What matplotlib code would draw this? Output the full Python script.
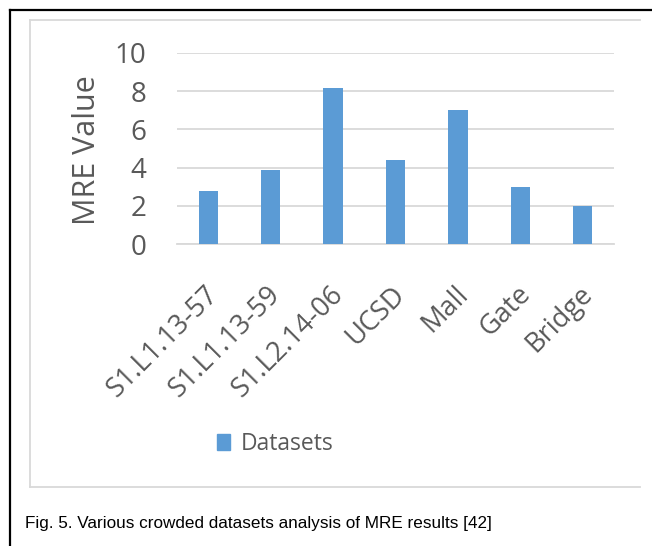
import matplotlib
matplotlib.use("Agg")
import matplotlib.pyplot as plt
from matplotlib.lines import Line2D
from matplotlib.patches import Patch
from matplotlib import font_manager
from matplotlib.transforms import ScaledTranslation

categories = ["S1.L1.13-57", "S1.L1.13-59", "S1.L2.14-06", "UCSD", "Mall", "Gate", "Bridge"]
values = [2.8, 3.9, 8.15, 4.4, 7.0, 3.0, 2.0]
yticks = [0, 2, 4, 6, 8, 10]
series_name = "Datasets"
caption = "Fig. 5. Various crowded datasets analysis of MRE results [42]"

W, H = 652, 546
fig = plt.figure(figsize=(W / 100, H / 100), dpi=100)

def fx(px):
    return px / W

def fy(py):
    return 1 - py / H

txt = "#595959"
grid = "#d9d9d9"
bar_c = "#5b9bd5"
font = ["Open Sans", "DejaVu Sans"]

names = {f.name for f in font_manager.fontManager.ttflist}
cap_family = ["Liberation Sans Narrow", "Liberation Sans", "DejaVu Sans"] if "Liberation Sans Narrow" in names else ["Liberation Sans", "DejaVu Sans"]
cap_size = 15 if "Liberation Sans Narrow" in names else 12.3

# outer black frame (left + top) and chart area frame
fig.add_artist(Line2D([fx(9.5), fx(9.5)], [fy(9.5), 0], color="black", lw=1.6, transform=fig.transFigure))
fig.add_artist(Line2D([fx(9.5), 1], [fy(9.5), fy(9.5)], color="black", lw=1.6, transform=fig.transFigure))
fig.add_artist(Line2D([fx(30), fx(30)], [fy(20), fy(487)], color=grid, lw=1.3, transform=fig.transFigure))
fig.add_artist(Line2D([fx(30), fx(640)], [fy(20), fy(20)], color=grid, lw=1.3, transform=fig.transFigure))
fig.add_artist(Line2D([fx(30), fx(640)], [fy(487), fy(487)], color=grid, lw=1.3, transform=fig.transFigure))

ax = fig.add_axes([fx(177), fy(244.3), fx(614) - fx(177), fy(52.7) - fy(244.3)])
x = list(range(len(categories)))
ax.bar(x, values, width=0.31, color=bar_c, zorder=3)
ax.set_xlim(-0.5, len(categories) - 0.5)
ax.set_ylim(0, 10)
ax.set_yticks(yticks)
ax.set_yticklabels([str(t) for t in yticks], fontsize=20, color=txt, family=font)
ax.yaxis.grid(True, color=grid, lw=1.3, zorder=0)
ax.set_axisbelow(True)
for s in ["top", "right", "left"]:
    ax.spines[s].set_visible(False)
ax.spines["bottom"].set_color(grid)
ax.spines["bottom"].set_linewidth(1.3)
ax.tick_params(axis="both", length=0)
ax.tick_params(axis="y", pad=22)
ax.set_xticks(x)
ax.set_xticklabels(categories, rotation=45, ha="right", va="center", rotation_mode="anchor",
                   fontsize=19.5, color=txt, family=font)
ax.tick_params(axis="x", pad=33)
shift = ScaledTranslation(6 / 100, 0, fig.dpi_scale_trans)
for lab in ax.get_xticklabels():
    lab.set_transform(lab.get_transform() + shift)

fig.text(fx(87), fy(150), "MRE Value", rotation=90, ha="center", va="center",
         fontsize=22, color=txt, family=font)

leg = fig.legend(handles=[Patch(color=bar_c, label=series_name)], loc="center",
                 bbox_to_anchor=(fx(275), fy(444)), frameon=False,
                 handlelength=0.58, handleheight=0.73, handletextpad=0.45,
                 prop={"family": font, "size": 16.5})
for t in leg.get_texts():
    t.set_color(txt)

fig.text(fx(25), fy(528), caption, ha="left", va="baseline", fontsize=cap_size,
         color="black", family=cap_family)

fig.savefig("out.png", dpi=100)
